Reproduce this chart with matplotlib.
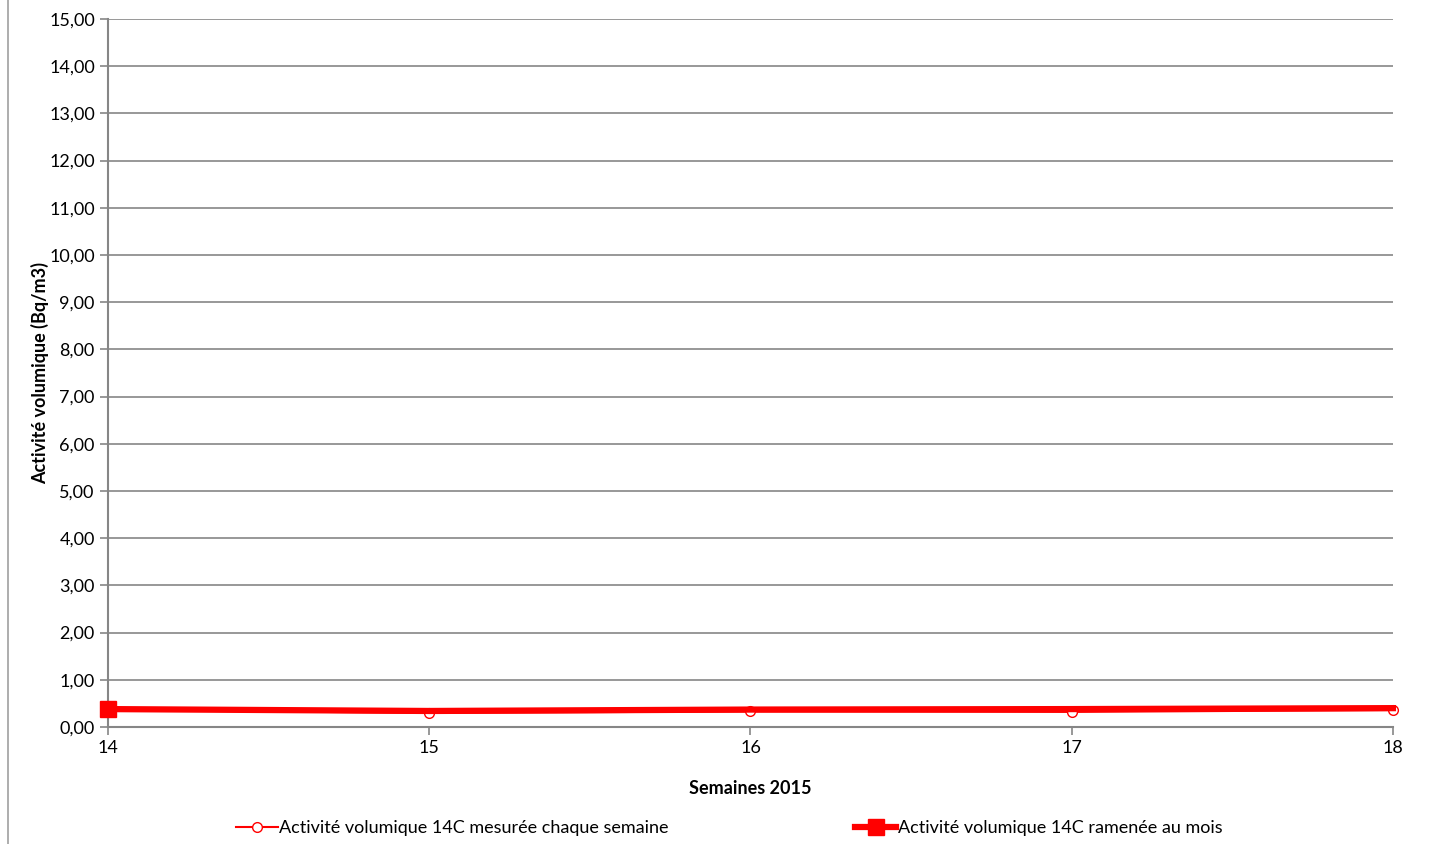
import numpy as np
import matplotlib.pyplot as plt
from matplotlib.ticker import FuncFormatter

plt.rcParams['font.family'] = ['Lato', 'DejaVu Sans']

# donnees
semaines = [14, 15, 16, 17, 18]
mesure_semaine = [0.36, 0.30, 0.33, 0.32, 0.36]
ramene_mois = [0.38, 0.34, 0.37, 0.38, 0.40]
y_ticks = np.arange(0, 16, 1)

fig = plt.figure(figsize=(14.36, 8.44), dpi=100)
ax = fig.add_axes([0.0752, 0.1386, 0.8948, 0.8389])

grey = '#868686'

ax.plot(semaines, mesure_semaine, color='red', lw=1.5, marker='o', ms=7,
        mfc='white', mec='red', mew=1, zorder=3, clip_on=False,
        label='Activité volumique 14C mesurée chaque semaine')
ax.plot(semaines, ramene_mois, color='red', lw=4.5, marker='s', ms=11,
        markevery=[0], zorder=4, clip_on=False,
        label='Activité volumique 14C ramenée au mois')

ax.set_xlim(14, 18)
ax.set_ylim(0, 15)
ax.set_xticks(semaines)
ax.set_yticks(y_ticks)
ax.yaxis.set_major_formatter(FuncFormatter(lambda v, p: '{:.2f}'.format(v).replace('.', ',')))
ax.grid(axis='y', color=grey, lw=1.2)
ax.set_axisbelow(True)

for s in ['top', 'right']:
    ax.spines[s].set_visible(False)
for s in ['left', 'bottom']:
    ax.spines[s].set_color(grey)
    ax.spines[s].set_linewidth(1.5)
ax.tick_params(axis='both', colors=grey, labelcolor='black', labelsize=13,
               direction='out', length=6, width=1.2)

ax.set_xlabel('Semaines 2015', fontsize=13, fontweight='bold', labelpad=17)
ax.set_ylabel('Activité volumique (Bq/m3)', fontsize=13, fontweight='bold')
ax.yaxis.set_label_coords(-0.046, 0.5)

fig.legend(loc='center', bbox_to_anchor=(0.508, 0.019), ncol=2, frameon=False,
           fontsize=13, columnspacing=10.3, handlelength=2.3, handletextpad=0.1)

# trait vertical du bord gauche
fig.add_artist(plt.Line2D([0.0056, 0.0056], [0, 1], color='#a0a0a0', lw=1.2))

fig.savefig('out.png', dpi=100)
